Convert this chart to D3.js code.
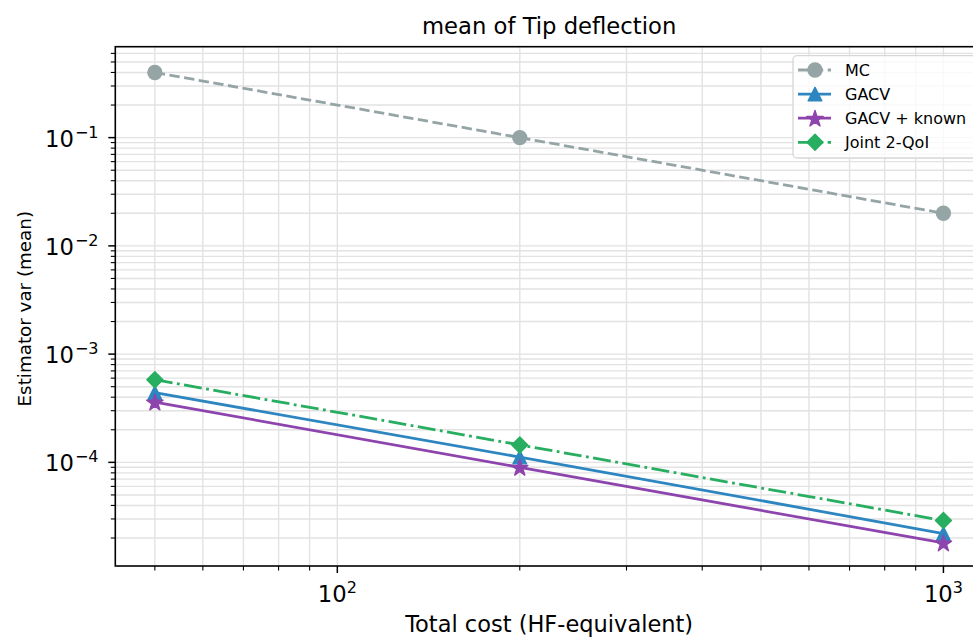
<!DOCTYPE html>
<html>
<head>
<meta charset="utf-8">
<script src="https://cdn.jsdelivr.net/npm/d3@7"></script>
<style>
  html, body { margin: 0; padding: 0; background: #fff; }
  svg { display: block; font-family: "DejaVu Sans", sans-serif; }
</style>
</head>
<body>
<svg id="chart" width="973" height="638"></svg>
<script>
// Total cost budgets (HF-equivalent)
const costs = [50, 200, 1000];

// Estimator variance of the mean, per method
const mcVar     = [0.4, 0.1, 0.02];
const gacvVar   = [4.4e-4, 1.12e-4, 2.2e-5];
const knownVar  = [3.6e-4, 9.0e-5, 1.8e-5];
const jointVar  = [5.8e-4, 1.45e-4, 2.9e-5];

const seriesNames = ["MC", "GACV", "GACV + known", "Joint 2-QoI"];
const xTickValues = [100, 1000];
const xTickLabels = ["2", "3"];
const yTickValues = [1e-4, 1e-3, 1e-2, 1e-1];
const yTickLabels = ["\u22124", "\u22123", "\u22122", "\u22121"];

const LW = 2.8;
const series = [
  { name: seriesNames[0], values: mcVar,    color: "#95a5a6", dash: [3.7, 1.6].map(v => v * LW).join(","),       marker: "circle" },
  { name: seriesNames[1], values: gacvVar,  color: "#2e86c1", dash: null,                                          marker: "triangle" },
  { name: seriesNames[2], values: knownVar, color: "#8e44ad", dash: null,                                          marker: "star" },
  { name: seriesNames[3], values: jointVar, color: "#27ae60", dash: [6.4, 1.6, 1, 1.6].map(v => v * LW).join(","), marker: "diamond" }
];

const svg = d3.select("#chart");
const plotL = 115.3, plotR = 983, plotT = 46.7, plotB = 566;

const x = d3.scaleLog().domain([Math.pow(10, 1.6337), Math.pow(10, 3.0653)]).range([plotL, plotR]);
const y = d3.scaleLog().domain([Math.pow(10, -4.9575), Math.pow(10, -0.160)]).range([plotB, plotT]);

// Grid: minor and major lines on both axes
const grid = svg.append("g");
const xMinor = [];
for (let e = 1; e <= 3; e++) for (let m = 1; m <= 9; m++) {
  const v = m * Math.pow(10, e);
  if (v >= x.domain()[0] && v <= x.domain()[1]) xMinor.push(v);
}
const yMinor = [];
for (let e = -6; e <= 0; e++) for (let m = 1; m <= 9; m++) {
  const v = m * Math.pow(10, e);
  if (v >= y.domain()[0] && v <= y.domain()[1]) yMinor.push(v);
}
const isMajorY = d => yTickValues.some(v => Math.abs(v - d) / d < 1e-6);
const isMajorX = d => xTickValues.some(v => Math.abs(v - d) / d < 1e-6);
grid.selectAll(".gx").data(xMinor).enter().append("line")
  .attr("x1", d => x(d)).attr("x2", d => x(d)).attr("y1", plotT).attr("y2", plotB)
  .attr("stroke", "#e2e2e2").attr("stroke-width", 1.4);
grid.selectAll(".gy").data(yMinor).enter().append("line")
  .attr("x1", plotL).attr("x2", plotR).attr("y1", d => y(d)).attr("y2", d => y(d))
  .attr("stroke", "#e2e2e2").attr("stroke-width", 1.4);

// Ticks (outward)
const ticks = svg.append("g").attr("stroke", "#000");
ticks.selectAll(".xt").data(xMinor).enter().append("line")
  .attr("x1", d => x(d)).attr("x2", d => x(d)).attr("y1", plotB)
  .attr("y2", d => plotB + (isMajorX(d) ? 7 : 4.5)).attr("stroke-width", d => isMajorX(d) ? 1.5 : 1.1);
ticks.selectAll(".yt").data(yMinor).enter().append("line")
  .attr("y1", d => y(d)).attr("y2", d => y(d)).attr("x1", plotL)
  .attr("x2", d => plotL - (isMajorY(d) ? 7 : 4.5))
  .attr("stroke-width", d => isMajorY(d) ? 1.5 : 1.1);

// Tick labels
const xl = svg.append("g").attr("font-size", 22.7).attr("fill", "#000");
xTickValues.forEach((v, i) => {
  const t = xl.append("text").attr("x", x(v)).attr("y", 602).attr("text-anchor", "middle");
  t.append("tspan").text("10");
  t.append("tspan").attr("font-size", 16).attr("dy", -9).text(xTickLabels[i]);
});
const yl = svg.append("g").attr("font-size", 22.7).attr("fill", "#000");
yTickValues.forEach((v, i) => {
  const t = yl.append("text").attr("x", 98.5).attr("y", y(v) + 9).attr("text-anchor", "end");
  t.append("tspan").text("10");
  t.append("tspan").attr("font-size", 16).attr("dy", -9).attr("dx", 1).text(yTickLabels[i]);
});

// Marker shapes (drawn with a thin edge in the series colour)
function markerPath(kind) {
  if (kind === "circle") {
    return d3.symbol().type(d3.symbolCircle).size(Math.PI * 7 * 7)();
  }
  if (kind === "triangle") {
    const h = 6.8;
    return `M0,${-h}L${h},${h}L${-h},${h}Z`;
  }
  if (kind === "star") {
    const ro = 8.6, ri = ro * 0.381966;
    const pts = [];
    for (let k = 0; k < 10; k++) {
      const r = k % 2 === 0 ? ro : ri;
      const a = -Math.PI / 2 + k * Math.PI / 5;
      pts.push([r * Math.cos(a), r * Math.sin(a) + 0.8]);
    }
    return "M" + pts.map(p => p.join(",")).join("L") + "Z";
  }
  const r = 8;
  return `M0,${-r}L${r},0L0,${r}L${-r},0Z`;
}

// Series lines and markers, clipped to the axes area
svg.append("clipPath").attr("id", "plotclip").append("rect")
  .attr("x", plotL).attr("y", plotT).attr("width", plotR - plotL).attr("height", plotB - plotT);
const plot = svg.append("g").attr("clip-path", "url(#plotclip)");
const line = d3.line().x(d => x(d[0])).y(d => y(d[1]));
series.forEach(s => {
  const pts = costs.map((c, i) => [c, s.values[i]]);
  plot.append("path").attr("d", line(pts)).attr("fill", "none")
    .attr("stroke", s.color).attr("stroke-width", LW)
    .attr("stroke-dasharray", s.dash);
  plot.selectAll(null).data(pts).enter().append("path")
    .attr("d", markerPath(s.marker))
    .attr("transform", d => `translate(${x(d[0])},${y(d[1])})`)
    .attr("fill", s.color).attr("stroke", s.color).attr("stroke-width", 1.4)
    .attr("stroke-linejoin", "round");
});

// Axes frame
svg.append("rect").attr("x", plotL).attr("y", plotT).attr("width", plotR - plotL).attr("height", plotB - plotT)
  .attr("fill", "none").attr("stroke", "#000").attr("stroke-width", 1.6);

// Legend
const lg = svg.append("g");
lg.append("rect").attr("x", 793).attr("y", 55.7).attr("width", 183).attr("height", 102.3)
  .attr("rx", 4).attr("fill", "rgba(255,255,255,0.8)").attr("stroke", "#d6d6d6").attr("stroke-width", 1.3);
series.forEach((s, i) => {
  const base = 76 + i * 24.1;
  const cy = base - 6;
  lg.append("line").attr("x1", 798).attr("x2", 831).attr("y1", cy).attr("y2", cy)
    .attr("stroke", s.color).attr("stroke-width", LW).attr("stroke-dasharray", s.dash);
  lg.append("path").attr("d", markerPath(s.marker))
    .attr("transform", `translate(815,${cy})`).attr("fill", s.color)
    .attr("stroke", s.color).attr("stroke-width", 1.4).attr("stroke-linejoin", "round");
  lg.append("text").attr("x", 845).attr("y", base).attr("font-size", 16).attr("fill", "#000").text(s.name);
});

// Titles
svg.append("text").attr("x", (plotL + plotR) / 2).attr("y", 34).attr("text-anchor", "middle")
  .attr("font-size", 22.7).attr("fill", "#000").text("mean of Tip deflection");
svg.append("text").attr("x", (plotL + plotR) / 2).attr("y", 632).attr("text-anchor", "middle")
  .attr("font-size", 22.5).attr("fill", "#000").text("Total cost (HF-equivalent)");
svg.append("text").attr("transform", `translate(30.5,308.7) rotate(-90)`)
  .attr("text-anchor", "middle").attr("font-size", 18.3).attr("fill", "#000").text("Estimator var (mean)");
</script>
</body>
</html>
